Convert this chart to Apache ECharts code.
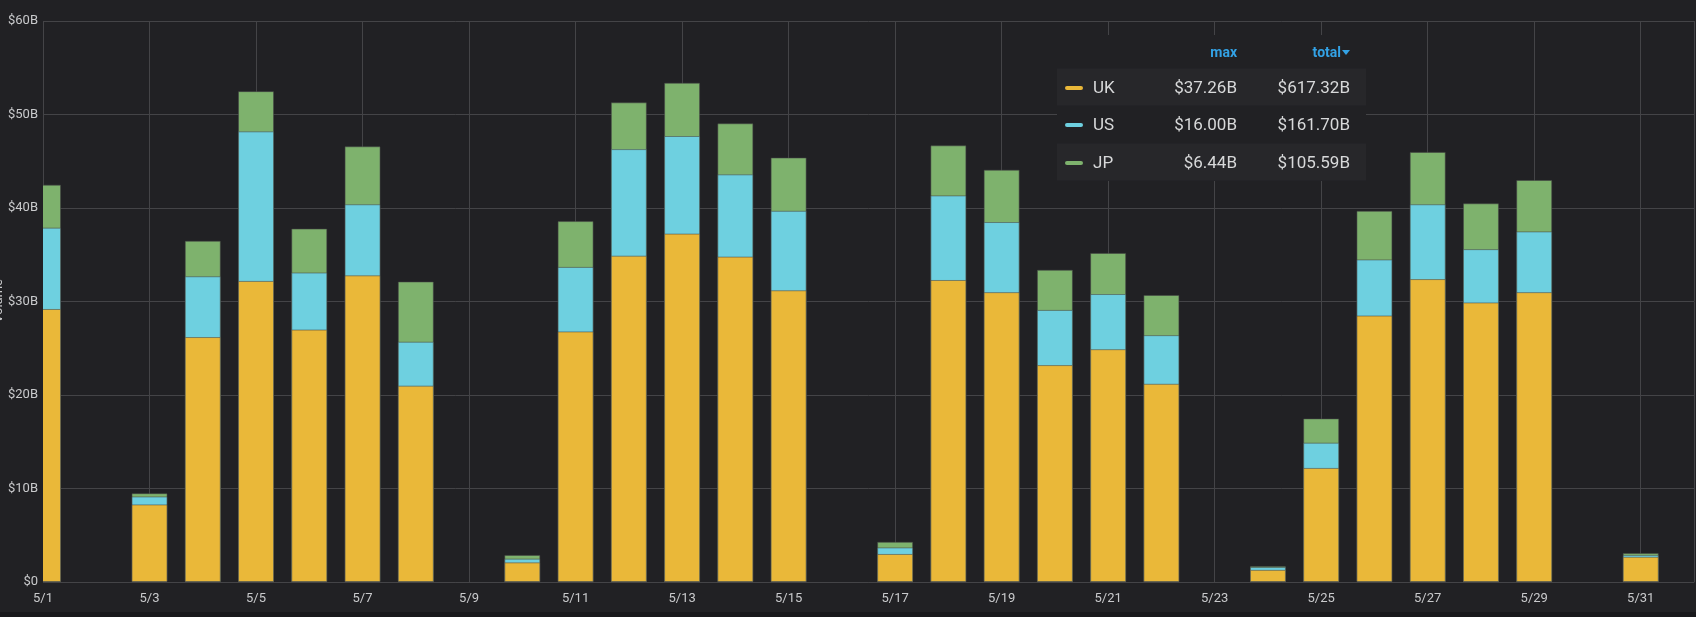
<!DOCTYPE html>
<html>
<head>
<meta charset="utf-8">
<script src="https://cdn.jsdelivr.net/npm/echarts@6/dist/echarts.min.js"></script>
<style>
html,body{margin:0;padding:0;background:#212124;}
#c{width:1696px;height:617px;}
</style>
</head>
<body>
<div id="c"></div>
<script>
// Categories: days of May
const categories = ['5/1','5/2','5/3','5/4','5/5','5/6','5/7','5/8','5/9','5/10','5/11','5/12','5/13','5/14','5/15','5/16','5/17','5/18','5/19','5/20','5/21','5/22','5/23','5/24','5/25','5/26','5/27','5/28','5/29','5/30','5/31'];
// Series values in $B (null = no data)
const ukValues = [29.2,null,8.3,26.2,32.2,27.0,32.8,21.0,null,2.1,26.8,34.9,37.26,34.8,31.2,null,3.0,32.3,31.0,23.2,24.9,21.2,null,1.3,12.2,28.5,32.4,29.9,31.0,null,2.7];
const usValues = [8.7,null,0.85,6.5,16.0,6.1,7.6,4.7,null,0.4,6.9,11.4,10.44,8.8,8.5,null,0.7,9.05,7.5,5.9,5.9,5.2,null,0.3,2.7,6.0,8.0,5.7,6.5,null,0.2];
const jpValues = [4.6,null,0.35,3.8,4.3,4.7,6.2,6.44,null,0.4,4.9,5.0,5.7,5.46,5.7,null,0.6,5.35,5.6,4.3,4.4,4.3,null,0.1,2.6,5.2,5.6,4.9,5.5,null,0.2];
// Legend table text
const seriesNames = ['UK','US','JP'];
const legendMax = ['$37.26B','$16.00B','$6.44B'];
const legendTotal = ['$617.32B','$161.70B','$105.59B'];
const yTickValues = [0,10,20,30,40,50,60];

const colors = ['#EAB839','#6ED0E0','#7EB26D'];
const bg = '#212124';
const gridColor = '#444447';
const textColor = '#c9cacc';
const font = 'Roboto, "Noto Sans", sans-serif';

const chart = echarts.init(document.getElementById('c'), null, {renderer:'canvas'});

const allSeries = [ukValues, usValues, jpValues];
// stacked tops (UK, UK+US, UK+US+JP), computed from the series arrays
const cumulative = allSeries.map((_, k) => categories.map((c, i) => {
  if (allSeries[0][i] == null) return null;
  let s = 0; for (let j = 0; j <= k; j++) s += (allSeries[j][i] || 0); return s;
}));

// draw topmost stack level first so lower levels paint over it
const series = [2, 1, 0].map(k => ({
  name: seriesNames[k],
  type: 'bar',
  barWidth: 36,
  barGap: '-100%',
  clip: true,
  yAxisIndex: 0,
  data: cumulative[k].map((v, i) => [i, v]),
  itemStyle: { color: colors[k], borderColor: 'rgba(70,70,70,0.55)', borderWidth: 1 },
  emphasis: { disabled: true },
  animation: false
}));

const GL = 43, GT = 21, GB = 582;
const lg = [];
// mask: clips the half bar that lies left of the plot area
lg.push({type:'rect', shape:{x:0, y:0, width:GL, height:GB+1}, style:{fill:bg}, z:5});
const lx = 1057, lw = 309;
lg.push({type:'rect', shape:{x:lx, y:35, width:lw, height:146}, style:{fill:bg}, z:100});
const rowY = [87, 124, 162];
[0,2].forEach(i => lg.push({type:'rect', shape:{x:lx, y:rowY[i]-18.5, width:lw, height:37}, style:{fill:'#27272a'}, z:101}));
lg.push({type:'text', x:1237, y:53, style:{text:'max', fill:'#33a2e5', font:'bold 14px ' + font, textAlign:'right', textVerticalAlign:'middle'}, z:102});
lg.push({type:'text', x:1341, y:53, style:{text:'total', fill:'#33a2e5', font:'bold 14px ' + font, textAlign:'right', textVerticalAlign:'middle'}, z:102});
lg.push({type:'polygon', shape:{points:[[1342,50],[1350,50],[1346,55]]}, style:{fill:'#33a2e5'}, z:102});
seriesNames.forEach((n,i) => {
  const ty = rowY[i] + 2;
  lg.push({type:'rect', shape:{x:1065, y:rowY[i]-1, width:18, height:4, r:2}, style:{fill:colors[i]}, z:102});
  lg.push({type:'text', x:1093, y:ty, style:{text:n, fill:'#d8d9da', font:'17px ' + font, textAlign:'left', textVerticalAlign:'middle'}, z:102});
  lg.push({type:'text', x:1237, y:ty, style:{text:legendMax[i], fill:'#d8d9da', font:'17px ' + font, textAlign:'right', textVerticalAlign:'middle'}, z:102});
  lg.push({type:'text', x:1350, y:ty, style:{text:legendTotal[i], fill:'#d8d9da', font:'17px ' + font, textAlign:'right', textVerticalAlign:'middle'}, z:102});
});
lg.push({type:'text', x:-1, y:301, rotation:Math.PI/2, style:{text:'Volume', fill:textColor, font:'13px ' + font, textAlign:'center', textVerticalAlign:'middle'}, z:102});
lg.push({type:'rect', shape:{x:0, y:612, width:1696, height:5}, style:{fill:'#18181b'}, z:102});

const yMin = yTickValues[0], yMax = yTickValues[yTickValues.length-1];
chart.setOption({
  backgroundColor: bg,
  animation: false,
  grid: { left: GL, right: 2, top: GT, bottom: 617 - GB, containLabel: false },
  xAxis: {
    type: 'value', min: 0, max: categories.length, interval: 2,
    axisLine: { show: true, lineStyle: { color: gridColor } },
    axisTick: { show: false },
    splitLine: { show: true, lineStyle: { color: gridColor, width: 1 } },
    axisLabel: {
      color: textColor, fontSize: 13, fontFamily: font, margin: 10,
      showMaxLabel: false,
      formatter: v => (Number.isInteger(v) && v % 2 === 0 && v < categories.length) ? categories[v] : ''
    }
  },
  yAxis: [{
    type: 'value', min: yMin, max: yMax, interval: 10,
    axisLine: { show: false }, axisTick: { show: false },
    splitLine: { show: true, lineStyle: { color: gridColor, width: 1 } },
    axisLabel: { show: false }
  }, {
    type: 'value', min: yMin, max: yMax, interval: 10, position: 'left',
    z: 10,
    axisLine: { show: false }, axisTick: { show: false },
    splitLine: { show: false },
    axisLabel: { color: textColor, fontSize: 13, fontFamily: font, margin: 5,
      formatter: v => v === 0 ? '$0' : '$' + v + 'B' }
  }],
  series: series,
  graphic: lg
});
</script>
</body>
</html>
